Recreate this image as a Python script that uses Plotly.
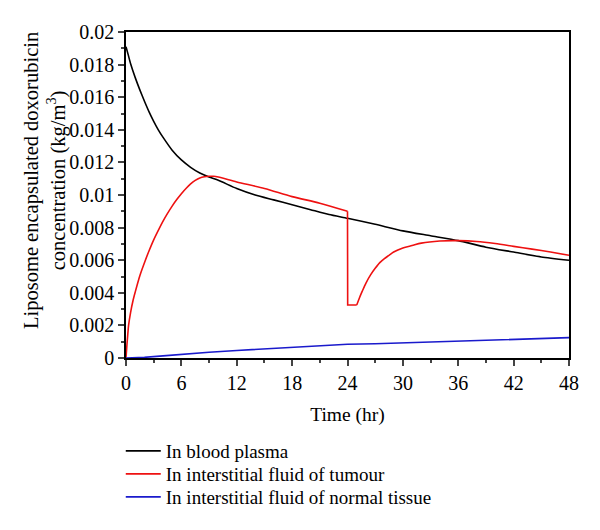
import plotly.graph_objects as go

# Time (hr) and concentrations (kg/m^3)
t_plasma = [0, 0.25, 0.5, 1, 1.5, 2, 2.5, 3, 3.5, 4, 5, 6, 7, 8, 9, 10, 12, 14, 16, 18, 20, 22,
            24, 27, 30, 33, 36, 39, 42, 45, 48]
c_plasma = [0.0191, 0.01858, 0.01805, 0.0172, 0.01645, 0.01575, 0.0151, 0.01452, 0.0140,
            0.01355, 0.01275, 0.01215, 0.0117, 0.01135, 0.0111, 0.0109, 0.0104, 0.0100, 0.0097,
            0.0094, 0.0091, 0.0088, 0.00857, 0.0082, 0.0078, 0.0075, 0.0072, 0.0068, 0.0065,
            0.0062, 0.0060]

# tumour: first dose phase, the sudden drop at 24 h, and the recovery phase
t_tumour_a = [0, 0.1, 0.2, 0.28, 0.5, 0.75, 1, 1.5, 2.1, 2.5, 3, 3.65, 4, 4.5, 5, 5.5, 6, 6.5,
              7, 7.5, 8, 8.5, 9, 9.5, 10, 12, 15, 18, 21, 24]
c_tumour_a = [0, 0.0008, 0.0015, 0.0020, 0.0028, 0.0035, 0.00405, 0.00505, 0.0060, 0.00658,
              0.00725, 0.0080, 0.00838, 0.00887, 0.00932, 0.00972, 0.01008, 0.0104, 0.01068,
              0.0109, 0.01105, 0.01112, 0.01115, 0.01115, 0.0111, 0.0108, 0.0104, 0.0099,
              0.0095, 0.0090]
t_tumour_drop = [24, 24.02, 25]
c_tumour_drop = [0.0090, 0.00325, 0.00325]
t_tumour_b = [25, 25.3, 25.6, 26, 26.5, 27, 27.5, 28, 28.5, 29, 30, 31, 32, 34, 36, 38, 40,
              42, 44, 46, 48]
c_tumour_b = [0.00325, 0.0037, 0.0041, 0.0046, 0.0051, 0.0055, 0.00585, 0.0061, 0.0063,
              0.0065, 0.00675, 0.0069, 0.00705, 0.00718, 0.0072, 0.00715, 0.00702, 0.00685,
              0.00668, 0.0065, 0.0063]

t_normal = [0, 2, 4, 6, 9, 12, 15, 18, 21, 24, 27, 30, 33, 36, 39, 42, 45, 48]
c_normal = [0, 0.00004, 0.00013, 0.00023, 0.00035, 0.00046, 0.00056, 0.00066, 0.00075, 0.00084,
            0.00087, 0.00092, 0.00097, 0.00102, 0.00107, 0.00112, 0.00118, 0.00125]

series_names = ["In blood plasma", "In interstitial fluid of tumour",
                "In interstitial fluid of normal tissue"]

x_tickvals = [0, 6, 12, 18, 24, 30, 36, 42, 48]
y_tickvals = [0, 0.002, 0.004, 0.006, 0.008, 0.01, 0.012, 0.014, 0.016, 0.018, 0.02]
y_ticktext = ["0", "0.002", "0.004", "0.006", "0.008", "0.01", "0.012", "0.014", "0.016",
              "0.018", "0.02"]

FONT = "Liberation Serif"
RED = "#ee1111"
# the page body adds an 8px offset; figure is sized to compensate
W, H = 592, 522
L, R, T, B = 118, 31, 24, 172
PW, PH = W - L - R, H - T - B

fig = go.Figure()
fig.add_trace(go.Scatter(x=t_plasma, y=c_plasma, mode="lines", name=series_names[0],
                         legend="legend",
                         line=dict(color="#000000", width=1.6, shape="spline", smoothing=0.6)))
fig.add_trace(go.Scatter(x=t_tumour_a, y=c_tumour_a, mode="lines", name=series_names[1],
                         legend="legend2", legendgroup="tumour",
                         line=dict(color=RED, width=1.6, shape="spline", smoothing=0.8)))
fig.add_trace(go.Scatter(x=t_tumour_drop, y=c_tumour_drop, mode="lines", name=series_names[1],
                         legend="legend2", legendgroup="tumour", showlegend=False,
                         line=dict(color=RED, width=1.6)))
fig.add_trace(go.Scatter(x=t_tumour_b, y=c_tumour_b, mode="lines", name=series_names[1],
                         legend="legend2", legendgroup="tumour", showlegend=False,
                         line=dict(color=RED, width=1.6, shape="spline", smoothing=0.8)))
fig.add_trace(go.Scatter(x=t_normal, y=c_normal, mode="lines", name=series_names[2],
                         legend="legend3",
                         line=dict(color="#1a1acc", width=1.6)))


def legend_at(top_px):
    return dict(x=-0.0118, y=1 - top_px / H, xref="paper", yref="container",
                xanchor="left", yanchor="top", itemwidth=35,
                font=dict(family=FONT, size=19), bgcolor="rgba(0,0,0,0)")


fig.update_layout(
    width=W, height=H,
    margin=dict(l=L, r=R, t=T, b=B),
    paper_bgcolor="white", plot_bgcolor="white",
    font=dict(family=FONT, size=19, color="black"),
    showlegend=True,
    legend=legend_at(424),
    legend2=legend_at(447),
    legend3=legend_at(470),
    xaxis=dict(range=[0, 48], tickvals=x_tickvals, ticks="outside", ticklen=6, tickwidth=1.5,
               showline=True, linewidth=1.5, linecolor="black", mirror=True, showgrid=False,
               zeroline=False, tickfont=dict(size=20), automargin=False,
               minor=dict(ticks="outside", ticklen=3, dtick=3, tickwidth=1.5, showgrid=False),
               title=dict(text="Time (hr)", font=dict(size=19.5), standoff=15)),
    yaxis=dict(range=[0, 0.02], tickvals=y_tickvals, ticktext=y_ticktext, ticks="outside",
               ticklen=6, tickwidth=1.5, showline=True, linewidth=1.5, linecolor="black",
               mirror=True, showgrid=False, zeroline=False, tickfont=dict(size=20),
               automargin=False,
               minor=dict(ticks="outside", ticklen=3, dtick=0.001, tickwidth=1.5, showgrid=False)),
    annotations=[dict(text="Liposome encapsulated doxorubicin<br>concentration (kg/m<sup>3</sup>)",
                      textangle=-90, xref="paper", yref="paper",
                      x=(37 - L) / PW, y=(T + PH - 173) / PH, xanchor="center", yanchor="middle",
                      showarrow=False, font=dict(family=FONT, size=20.5))],
)

fig.write_html("out.html")
